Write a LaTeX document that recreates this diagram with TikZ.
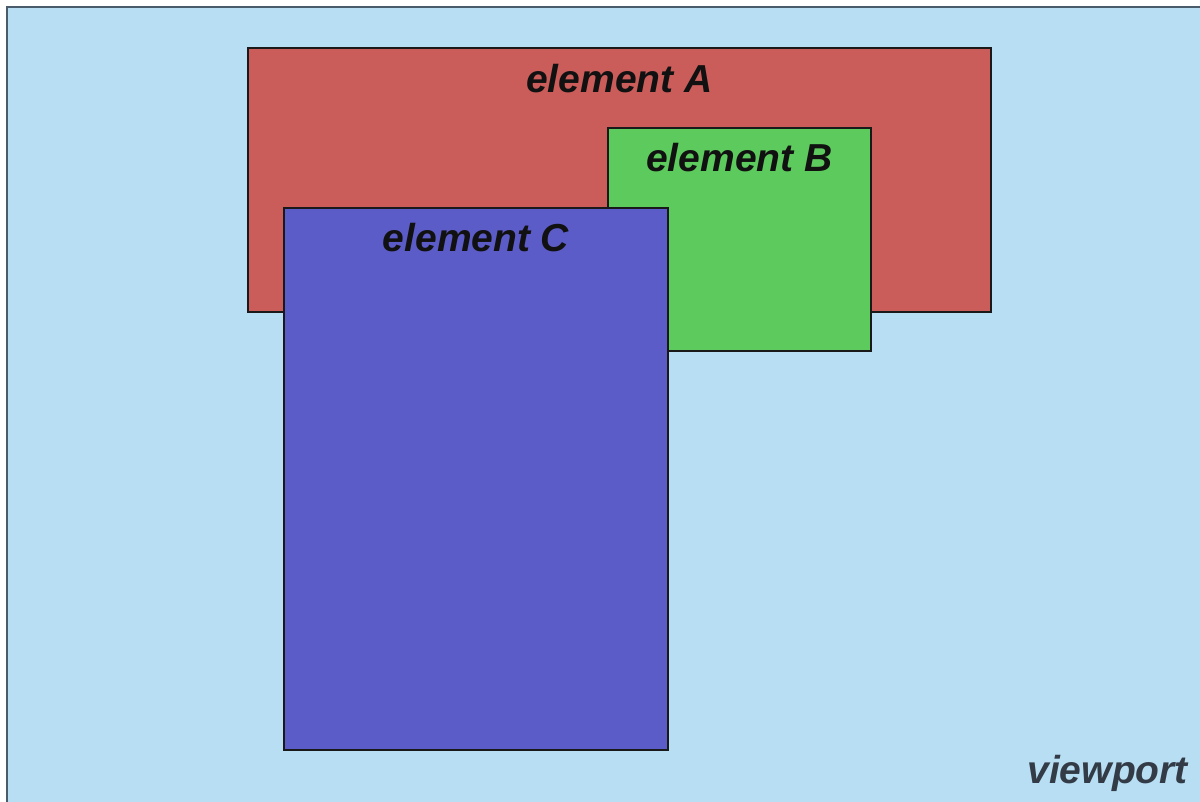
\documentclass[tikz,border=0pt]{standalone}
\usepackage{fontspec}
\setmainfont{Liberation Sans}
\definecolor{vpbg}{HTML}{B8DEF4}
\definecolor{vpborder}{HTML}{4A5C6C}
\definecolor{elA}{HTML}{CA5C5A}
\definecolor{elB}{HTML}{5DCA5D}
\definecolor{elC}{HTML}{5C5CC8}
\definecolor{vptext}{HTML}{333C46}
\definecolor{eltext}{HTML}{111111}
\tikzset{
  elbox/.style={draw=black!90, line width=2.8pt, inner sep=0pt, outer sep=0pt, anchor=north west},
  ellabel/.style={anchor=base, text=eltext, font=\fontsize{39}{39}\selectfont\bfseries\itshape, inner sep=0pt},
}
\begin{document}
\begin{tikzpicture}[x=1pt, y=-1pt]
\useasboundingbox (0,0) rectangle (1200,801);
\fill[vpbg] (7,7) rectangle (1205,806);
\draw[vpborder, line width=2.2pt] (7,806) -- (7,7) -- (1205,7);
\node[elbox, fill=elA, minimum width=743pt, minimum height=264pt] (A) at (248,48) {};
\node[elbox, fill=elB, minimum width=263pt, minimum height=223pt] (B) at (608,128) {};
\node[elbox, fill=elC, minimum width=384pt, minimum height=542pt] (C) at (284,208) {};
\node[ellabel] (lA) at ([yshift=-44pt]A.north) {element A};
\node[ellabel] (lB) at ([yshift=-43pt]B.north) {element B};
\node[ellabel] (lC) at ([yshift=-43pt]C.north) {element C};
\node[ellabel, text=vptext, anchor=base east] (lV) at (1188,783) {viewport};
\end{tikzpicture}
\end{document}
